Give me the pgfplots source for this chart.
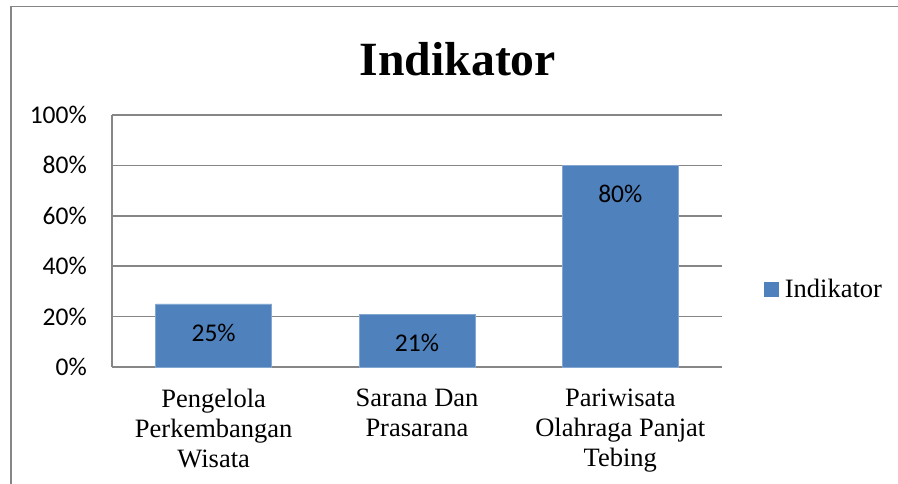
\documentclass[border=0pt]{standalone}
\usepackage{pgfplots}
\pgfplotsset{compat=1.18}
\usepackage{fontspec}
\setmainfont{Liberation Serif}
\newfontfamily\calibri{Carlito}
\definecolor{barblue}{HTML}{4F81BD}
\definecolor{gridgray}{HTML}{868686}
\begin{document}
\begin{tikzpicture}[x=1pt,y=1pt]
\useasboundingbox (0,0) rectangle (898,484);
\draw[gridgray, line width=1.5pt] (11,-5) -- (11,477.5) -- (905,477.5);
\begin{axis}[
  at={(112pt,117pt)}, anchor=south west,
  scale only axis, width=610pt, height=252pt,
  xmin=-0.5, xmax=2.5, ymin=0, ymax=100,
  clip=false,
  ybar, bar width=116pt, bar shift=0pt,
  xtick={0,1,2},
  xticklabels={{Pengelola\\Perkembangan\\Wisata},{Sarana Dan\\Prasarana},{Pariwisata\\Olahraga Panjat\\Tebing}},
  ytick={0,20,40,60,80,100},
  yticklabels={0\%,20\%,40\%,60\%,80\%,100\%},
  major tick length=0pt,
  axis x line*=bottom, axis y line*=left,
  axis line style={gridgray, line width=1.5pt, -},
  ymajorgrids, major grid style={gridgray, line width=1.5pt},
  y tick label style={font=\calibri\fontsize{25.5}{30}\selectfont, inner sep=0pt, xshift=-25pt},
  x tick label style={font=\rmfamily\fontsize{26.5}{30}\selectfont, align=center, inner sep=0pt, yshift=-22pt},
  nodes near coords={\calibri\pgfmathprintnumber[assume math mode=true]{\pgfplotspointmeta}\%},
  every node near coord/.append style={font=\calibri\fontsize{25.5}{30}\selectfont, anchor=center, yshift=-29pt, text=black},
  legend image code/.code={\fill[barblue] (0pt,-7pt) rectangle (14pt,7pt);},
  legend style={at={(rel axis cs:1.0689,0.3095)}, anchor=west, draw=none, fill=none, inner sep=0pt,
    font=\rmfamily\fontsize{26.5}{30}\selectfont, nodes={inner sep=0pt},
    /tikz/every odd column/.append style={column sep=6pt}},
]
\addplot[fill=barblue, draw=barblue!70!white, line width=0.6pt] coordinates {(0,25) (1,21) (2,80)};
\addlegendentry{\rmfamily Indikator}
\node[font=\rmfamily\bfseries\fontsize{47.7}{50}\selectfont, anchor=base] at (rel axis cs:0.567,1.1587) {Indikator};
\end{axis}
\end{tikzpicture}
\end{document}
